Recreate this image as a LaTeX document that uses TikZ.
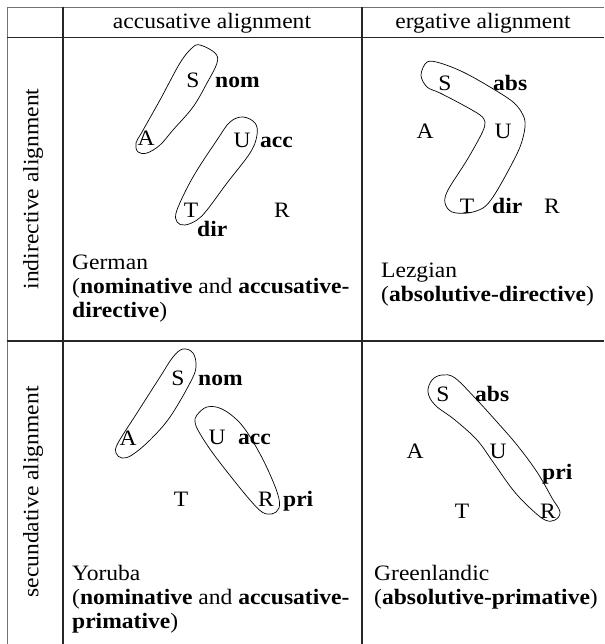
\documentclass[tikz,border=0pt]{standalone}
\usepackage{fontspec}
\setmainfont[FakeStretch=1.07]{Liberation Serif}
\begin{document}
\begin{tikzpicture}[x=1pt,y=-1pt,
  lab/.style={font=\fontsize{22}{24}\selectfont, inner sep=0pt, anchor=base},
  cas/.style={font=\fontsize{22}{24}\selectfont\bfseries, inner sep=0pt, anchor=base west},
  blk/.style={font=\fontsize{22}{24}\selectfont, inner sep=0pt, anchor=base west, align=left},
  head/.style={font=\fontsize{22}{24}\selectfont, inner sep=0pt, anchor=base},
  grp/.style={draw, line width=0.7pt},
  gridline/.style={line width=1.3pt, draw=black!85},
  outerline/.style={line width=0.9pt, draw=black!55}]
\useasboundingbox (0,0) rectangle (604,644);
% table
\draw[outerline] (7,644) -- (7,7) -- (604,7);
\draw[gridline] (63,7) -- (63,644);
\draw[gridline] (362,7) -- (362,644);
\draw[gridline] (7,37.5) -- (604,37.5);
\draw[gridline] (7,341) -- (604,341);
% headers
\node[head] (h1) at (212,29) {accusative alignment};
\node[head] (h2) at (483,29) {ergative alignment};
\node[head, rotate=90, anchor=center] (r1) at (33,189) {indirective alignment};
\node[head, rotate=90, anchor=center] (r2) at (33,492) {secundative alignment};
% ---- top-left
\draw[grp] plot[smooth cycle, tension=0.6] coordinates {(200,45) (215,53) (217,63) (207,83) (193,107) (173,130) (160,145) (147,153) (138,152) (136,143) (142,132) (160,100) (180,63) (192,48)};
\draw[grp] plot[smooth cycle, tension=0.6] coordinates {(243,117) (255,123) (257,135) (250,153) (227,183) (207,210) (197,220) (185,225) (177,222) (177,210) (193,177) (217,140) (230,122)};
\node[lab] (tlS) at (193,88) {S};
\node[cas] (tlnom) at (215,88) {nom};
\node[lab] (tlA) at (146,146) {A};
\node[lab] (tlU) at (242,147.5) {U};
\node[cas] (tlacc) at (260,147.5) {acc};
\node[lab] (tlT) at (191,218) {T};
\node[lab] (tlR) at (282,218) {R};
\node[cas] (tldir) at (197,236.5) {dir};
\node[blk] (german1) at (72,269) {German};
\node[blk] (german2) at (72,293) {(\textbf{nominative} and \textbf{accusative-}};
\node[blk] (german3) at (72,317) {\textbf{directive})};
% ---- top-right
\draw[grp] plot[smooth cycle, tension=0.55] coordinates {(427,62) (440,63) (463,72) (490,87) (513,102) (523,115) (525,127) (520,147) (507,173) (493,197) (483,208) (468,213) (452,212) (445,203) (448,190) (467,160) (482,133) (485,122) (480,115) (463,105) (440,93) (427,87) (421,75)};
\node[lab] (trS) at (445,90.5) {S};
\node[cas] (trabs) at (493,90.5) {abs};
\node[lab] (trA) at (425,139) {A};
\node[lab] (trU) at (503,139) {U};
\node[lab] (trT) at (467,213) {T};
\node[cas] (trdir) at (492,213) {dir};
\node[lab] (trR) at (552,213) {R};
\node[blk] (lez1) at (381,277) {Lezgian};
\node[blk] (lez2) at (381,301) {(\textbf{absolutive-directive})};
% ---- bottom-left
\draw[grp] plot[smooth cycle, tension=0.6] coordinates {(183,349) (193,353) (196,367) (190,383) (170,417) (150,440) (132,455) (122,458) (116,453) (118,443) (137,413) (160,377) (173,357)};
\draw[grp] plot[smooth cycle, tension=0.6] coordinates {(197,415) (207,407) (222,409) (240,423) (255,445) (268,470) (278,495) (279,508) (272,514) (262,512) (250,500) (232,478) (212,452) (199,432) (195,422)};
\node[lab] (blS) at (178,385.5) {S};
\node[cas] (blnom) at (198,385.5) {nom};
\node[lab] (blA) at (128,445) {A};
\node[lab] (blU) at (217,444) {U};
\node[cas] (blacc) at (238,444) {acc};
\node[lab] (blT) at (181,506) {T};
\node[lab] (blR) at (266,506) {R};
\node[cas] (blpri) at (283,506) {pri};
\node[blk] (yor1) at (72,580) {Yoruba};
\node[blk] (yor2) at (72,604) {(\textbf{nominative} and \textbf{accusative-}};
\node[blk] (yor3) at (72,628) {\textbf{primative})};
% ---- bottom-right
\draw[grp] plot[smooth cycle, tension=0.6] coordinates {(442,375) (455,378) (477,400) (497,422) (517,445) (537,472) (552,498) (560,512) (555,520) (545,520) (530,508) (513,490) (493,462) (477,440) (455,420) (435,405) (428,392) (432,380)};
\node[lab] (brS) at (443,401.5) {S};
\node[cas] (brabs) at (475,401.5) {abs};
\node[lab] (brA) at (415,458) {A};
\node[lab] (brU) at (498,458) {U};
\node[cas] (brpri) at (542,479) {pri};
\node[lab] (brT) at (462,518) {T};
\node[lab] (brR) at (548,518) {R};
\node[blk] (gre1) at (374,580) {Greenlandic};
\node[blk] (gre2) at (374,604) {(\textbf{absolutive-primative})};
\end{tikzpicture}
\end{document}
